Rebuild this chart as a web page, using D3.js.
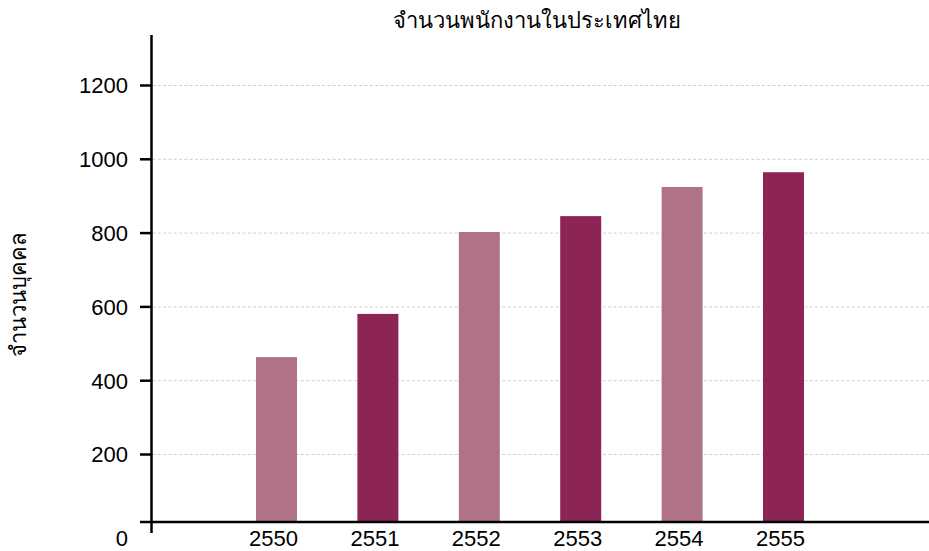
<!DOCTYPE html>
<head>
  <meta charset="utf-8">
  <script src="https://d3js.org/d3.v7.min.js"></script>
  <style>
    body { margin:0; background:#fff; }
    svg { display:block; }
    .tick_label { font-family: "Liberation Sans", Arial, sans-serif; font-size: 22px; fill: #000; }
    .title { font-family: "Liberation Sans", "Noto Sans", sans-serif; font-size: 22px; fill: #000; }
  </style>
</head>
<body>
  <script>
    var years = ["2550", "2551", "2552", "2553", "2554", "2555"];
    var employees = [464, 581, 803, 846, 925, 965];
    var yTicks = [200, 400, 600, 800, 1000, 1200];
    var barColors = ["#b07386", "#8c2455"];
    var titleText = "จำนวนพนักงานในประเทศไทย";
    var yLabelText = "จำนวนบุคคล";

    var width = 929;
    var height = 551;
    var axisX = 151.5;
    var axisY = 522;
    var barWidth = 41;

    var svg = d3.select("body").append("svg")
      .attr("width", width)
      .attr("height", height);

    var x = d3.scalePoint()
      .domain(years)
      .range([276.5, 783.5]);

    var y = d3.scaleLinear()
      .domain([0, 1200])
      .range([528.3, 85.5]);

    // grid lines
    svg.selectAll(".grid")
      .data(yTicks)
      .enter()
      .append("line")
      .attr("class", "grid")
      .attr("x1", axisX + 1)
      .attr("x2", width)
      .attr("y1", function(d) { return y(d); })
      .attr("y2", function(d) { return y(d); })
      .attr("stroke", "#cfcfcf")
      .attr("stroke-width", 1)
      .attr("stroke-dasharray", "3,2.3");

    // bars
    svg.selectAll(".bar")
      .data(employees)
      .enter()
      .append("rect")
      .attr("class", "bar")
      .attr("x", function(d, i) { return x(years[i]) - barWidth / 2; })
      .attr("y", function(d) { return y(d); })
      .attr("width", barWidth)
      .attr("height", function(d) { return axisY - y(d); })
      .attr("fill", function(d, i) { return barColors[i % 2]; });

    // axes lines
    svg.append("line")
      .attr("x1", axisX).attr("x2", axisX)
      .attr("y1", y(1337)).attr("y2", 533)
      .attr("stroke", "#000").attr("stroke-width", 2.5);

    svg.append("line")
      .attr("x1", 140).attr("x2", width)
      .attr("y1", axisY).attr("y2", axisY)
      .attr("stroke", "#000").attr("stroke-width", 2.5);

    // y ticks
    svg.selectAll(".ytick")
      .data(yTicks)
      .enter()
      .append("line")
      .attr("class", "ytick")
      .attr("x1", 140)
      .attr("x2", axisX)
      .attr("y1", function(d) { return y(d); })
      .attr("y2", function(d) { return y(d); })
      .attr("stroke", "#000")
      .attr("stroke-width", 2.5);

    svg.selectAll(".ylabel")
      .data(yTicks)
      .enter()
      .append("text")
      .attr("class", "tick_label")
      .attr("x", 128)
      .attr("y", function(d) { return y(d); })
      .attr("dy", "0.36em")
      .attr("text-anchor", "end")
      .text(function(d) { return d; });

    // zero label sits below the x axis
    svg.append("text")
      .attr("class", "tick_label")
      .attr("x", 128)
      .attr("y", 546)
      .attr("text-anchor", "end")
      .text(0);

    svg.selectAll(".xlabel")
      .data(years)
      .enter()
      .append("text")
      .attr("class", "tick_label")
      .attr("x", function(d) { return x(d) - 3; })
      .attr("y", 546)
      .attr("text-anchor", "middle")
      .text(function(d) { return d; });

    // title
    svg.append("text")
      .attr("class", "title")
      .attr("x", 537)
      .attr("y", 28)
      .attr("text-anchor", "middle")
      .text(titleText);

    // y axis title
    svg.append("text")
      .attr("class", "title")
      .attr("transform", "translate(26,295) rotate(-90)")
      .attr("text-anchor", "middle")
      .text(yLabelText);
  </script>
</body>
